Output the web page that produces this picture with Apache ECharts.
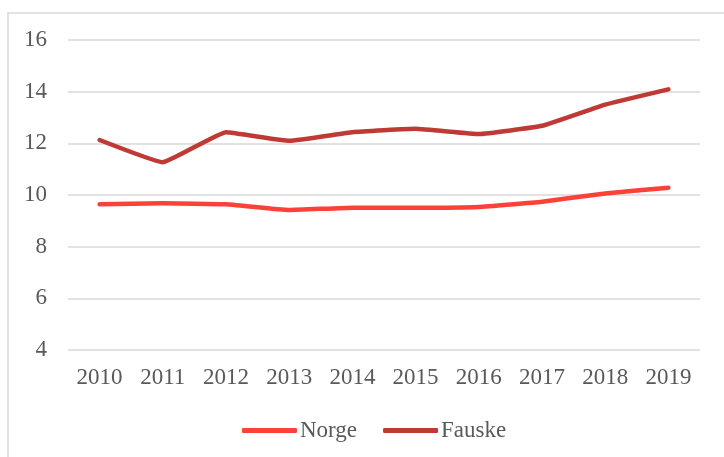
<!DOCTYPE html>
<html>
<head>
<meta charset="utf-8">
<script src="https://cdn.jsdelivr.net/npm/echarts@6/dist/echarts.min.js"></script>
<style>
  html, body { margin: 0; padding: 0; background: #ffffff; }
  #chart { width: 724px; height: 457px; }
</style>
</head>
<body>
<div id="chart"></div>
<script>
// Years on the category axis
const years = ['2010', '2011', '2012', '2013', '2014', '2015', '2016', '2017', '2018', '2019'];

// Series values
const norge = [9.64, 9.68, 9.64, 9.42, 9.51, 9.51, 9.54, 9.74, 10.06, 10.28];
const fauske = [12.13, 11.27, 12.43, 12.10, 12.43, 12.56, 12.36, 12.68, 13.50, 14.09];

// Value axis range
const yMin = 4;
const yMax = 16;
const yStep = 2;

const textColor = '#595959';
const fontFamily = '"Liberation Serif", "Times New Roman", serif';

const chart = echarts.init(document.getElementById('chart'), null, { renderer: 'canvas' });

chart.setOption({
  backgroundColor: '#ffffff',
  animation: false,
  textStyle: { fontFamily: fontFamily },
  graphic: [{
    type: 'rect',
    shape: { x: 8, y: 13, width: 740, height: 470 },
    style: { fill: 'none', stroke: '#d9d9d9', lineWidth: 1.5 },
    silent: true,
    z: -1
  }],
  grid: { left: 68, right: 24, top: 40, bottom: 107, containLabel: false },
  legend: {
    bottom: 10,
    left: 237,
    icon: 'roundRect',
    itemWidth: 55,
    itemHeight: 5,
    itemGap: 26,
    textStyle: { color: textColor, fontSize: 23, fontFamily: fontFamily, padding: [0, 0, 0, -2] },
    data: ['Norge', 'Fauske']
  },
  xAxis: {
    type: 'category',
    data: years,
    boundaryGap: true,
    axisLine: { show: false },
    axisTick: { show: false },
    axisLabel: { color: textColor, fontSize: 23, fontFamily: fontFamily, margin: 16 }
  },
  yAxis: {
    type: 'value',
    min: yMin,
    max: yMax,
    interval: yStep,
    axisLine: { show: false },
    axisTick: { show: false },
    axisLabel: { color: textColor, fontSize: 23, fontFamily: fontFamily, margin: 21 },
    splitLine: { lineStyle: { color: '#d9d9d9', width: 1.5 } }
  },
  series: [
    {
      name: 'Norge',
      type: 'line',
      data: norge,
      smooth: 0.1,
      symbol: 'none',
      lineStyle: { color: '#fc4139', width: 4.5, cap: 'round', join: 'round' },
      itemStyle: { color: '#fc4139' }
    },
    {
      name: 'Fauske',
      type: 'line',
      data: fauske,
      smooth: 0.1,
      symbol: 'none',
      lineStyle: { color: '#bf3a34', width: 4.5, cap: 'round', join: 'round' },
      itemStyle: { color: '#bf3a34' }
    }
  ]
});
</script>
</body>
</html>
